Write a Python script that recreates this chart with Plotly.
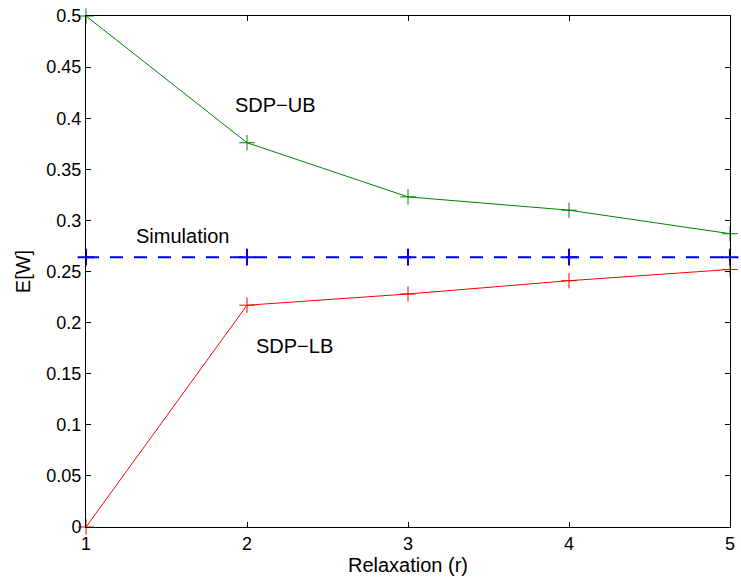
import plotly.graph_objects as go

# Relaxation order r
relaxation = [1, 2, 3, 4, 5]
# Upper and lower SDP bounds on E[W]
sdp_ub = [0.5, 0.376, 0.323, 0.310, 0.287]
sdp_lb = [0.0, 0.217, 0.228, 0.241, 0.252]
# Simulated E[W] (constant reference)
simulation = [0.264, 0.264, 0.264, 0.264, 0.264]

x_ticks = [1, 2, 3, 4, 5]
y_ticks = [0, 0.05, 0.1, 0.15, 0.2, 0.25, 0.3, 0.35, 0.4, 0.45, 0.5]
y_tick_text = ["0", "0.05", "0.1", "0.15", "0.2", "0.25", "0.3", "0.35", "0.4", "0.45", "0.5"]

FONT = "Liberation Sans, Arial, Helvetica, sans-serif"

fig = go.Figure()

fig.add_trace(go.Scatter(
    x=relaxation, y=sdp_ub, mode="lines+markers", name="SDP−UB",
    line=dict(color="rgb(0,128,0)", width=1),
    marker=dict(symbol="cross-thin", size=11, line=dict(color="rgb(0,128,0)", width=1)),
    cliponaxis=False,
))
fig.add_trace(go.Scatter(
    x=relaxation, y=simulation, mode="lines+markers", name="Simulation",
    line=dict(color="rgb(0,0,255)", width=2, dash="13px,11px"),
    marker=dict(symbol="cross-thin", size=12, line=dict(color="rgb(0,0,255)", width=2)),
    cliponaxis=False,
))
fig.add_trace(go.Scatter(
    x=relaxation, y=sdp_lb, mode="lines+markers", name="SDP−LB",
    line=dict(color="rgb(255,0,0)", width=1),
    marker=dict(symbol="cross-thin", size=11, line=dict(color="rgb(255,0,0)", width=1)),
    cliponaxis=False,
))

labels = [("SDP−UB", 2.18, 0.413), ("Simulation", 1.6, 0.2846), ("SDP−LB", 2.293, 0.1775)]
for text, lx, ly in labels:
    fig.add_annotation(x=lx, y=ly, xref="x", yref="y", text=text, showarrow=False,
                       font=dict(family=FONT, size=20, color="black"),
                       xanchor="center", yanchor="middle")

axis_common = dict(
    showgrid=False, zeroline=False, showline=True, linecolor="black", linewidth=1,
    mirror="ticks", ticks="inside", ticklen=5, tickcolor="black", tickwidth=1,
    tickfont=dict(family=FONT, size=18, color="black"),
)

fig.update_xaxes(range=[1, 5], tickvals=x_ticks, ticktext=[str(v) for v in x_ticks],
                 title=dict(text="Relaxation (r)", font=dict(family=FONT, size=20, color="black"),
                            standoff=4),
                 **axis_common)
fig.update_yaxes(range=[0, 0.5], tickvals=y_ticks, ticktext=y_tick_text,
                 title=dict(text="E[W]", font=dict(family=FONT, size=20, color="black"),
                            standoff=10),
                 **axis_common)

fig.update_layout(
    width=741, height=583,
    margin=dict(l=86, r=6, t=14, b=56),
    paper_bgcolor="white", plot_bgcolor="white",
    showlegend=False,
    font=dict(family=FONT, color="black"),
)

fig.write_html("out.html")
